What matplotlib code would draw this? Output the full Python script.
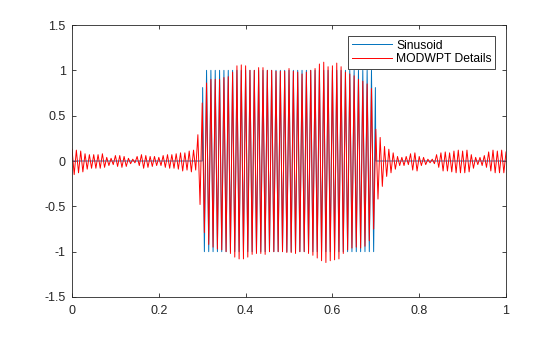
import numpy as np
import matplotlib.pyplot as plt

plt.rcParams['font.family'] = ['Liberation Sans', 'DejaVu Sans']

# ========================
# DATA
# ========================

# sinusoid: switched on between 0.3 and 0.7, extrema every half period (0.005)
sin_t = [0.0, 0.3, 0.301] + [0.305 + 0.005 * i for i in range(79)] + [0.699, 0.7, 1.0]
sin_vals = [0, 0, 0.81,
            -1, 1, -1, 1, -1, 1, -1, 1, -1, 1,
            -1, 1, -1, 1, -1, 1, -1, 1, -1, 1,
            -1, 1, -1, 1, -1, 1, -1, 1, -1, 1,
            -1, 1, -1, 1, -1, 1, -1, 1, -1, 1,
            -1, 1, -1, 1, -1, 1, -1, 1, -1, 1,
            -1, 1, -1, 1, -1, 1, -1, 1, -1, 1,
            -1, 1, -1, 1, -1, 1, -1, 1, -1, 1,
            -1, 1, -1, 1, -1, 1, -1, 1,
            -1,
            0.81, 0, 0]

# MODWPT details: successive peak / trough values, one pair per 0.01
details_ext = [
    0.13, -0.15, 0.12, -0.13, 0.11, -0.12, 0.08, -0.09, 0.07, -0.08,
    0.07, -0.08, 0.07, -0.08, 0.08, -0.07, 0.04, -0.05, 0.03, -0.04,
    0.06, -0.06, 0.06, -0.07, 0.05, -0.06, 0.03, -0.03, 0.02, -0.02,
    0.05, -0.05, 0.07, -0.08, 0.06, -0.07, 0.05, -0.06, 0.05, -0.05,
    0.04, -0.05, 0.06, -0.07, 0.07, -0.08, 0.07, -0.08, 0.08, -0.09,
    0.09, -0.11, 0.09, -0.10, 0.11, -0.12, 0.12, -0.10, 0.29, -0.48,
    0.64, -0.79, 0.86, -0.92, 0.90, -0.95, 0.90, -0.97, 0.90, -0.98,
    0.92, -1.00, 0.93, -1.02, 0.98, -1.06, 1.05, -1.08, 1.06, -1.08,
    1.05, -1.06, 1.00, -1.03, 1.00, -1.02, 1.03, -1.02, 1.03, -1.03,
    1.00, -1.00, 1.00, -1.00, 0.99, -1.00, 0.99, -1.00, 0.99, -1.01,
    1.02, -1.01, 0.99, -1.02, 0.98, -1.00, 0.96, -1.00, 0.98, -1.02,
    1.00, -1.04, 1.02, -1.07, 1.07, -1.10, 1.09, -1.12, 1.04, -1.10,
    1.05, -1.09, 1.08, -1.08, 1.04, -1.02, 0.98, -0.98, 0.96, -0.96,
    0.94, -0.95, 0.90, -0.96, 0.88, -0.94, 0.85, -0.88, 0.80, -0.75,
    0.35, -0.42, 0.26, -0.28, 0.16, -0.17, 0.13, -0.13, 0.09, -0.09,
    0.05, -0.05, 0.04, -0.05, 0.05, -0.04, 0.08, -0.10, 0.09, -0.11,
    0.05, -0.05, 0.04, -0.04, 0.02, -0.02, 0.02, -0.03, 0.07, -0.07,
    0.09, -0.11, 0.10, -0.11, 0.09, -0.12, 0.11, -0.13, 0.12, -0.13,
    0.11, -0.13, 0.12, -0.12, 0.07, -0.08, 0.04, -0.04, 0.04, -0.05,
    0.06, -0.07, 0.10, -0.11, 0.12, -0.13, 0.11, -0.13, 0.12, -0.13,
    0.10,
]
half_period = 0.005
details_t = np.arange(len(details_ext)) * half_period

x_ticks = [0, 0.2, 0.4, 0.6, 0.8, 1]
x_labels = ['0', '0.2', '0.4', '0.6', '0.8', '1']
y_ticks = [-1.5, -1, -0.5, 0, 0.5, 1, 1.5]
y_labels = ['-1.5', '-1', '-0.5', '0', '0.5', '1', '1.5']

# ========================
# PLOT
# ========================

fig = plt.figure(figsize=(5.6, 3.37), dpi=100)
ax = fig.add_axes([0.1286, 0.1187, 0.775, 0.8071])

ax.plot(sin_t, sin_vals, color='#0072BD', lw=0.7, label='Sinusoid')
ax.plot(details_t, details_ext, color='#FF0000', lw=0.7, label='MODWPT Details')

ax.set_xlim(0, 1)
ax.set_ylim(-1.5, 1.5)
ax.set_xticks(x_ticks)
ax.set_xticklabels(x_labels)
ax.set_yticks(y_ticks)
ax.set_yticklabels(y_labels)
ax.tick_params(direction='in', length=3.2, width=0.6, top=True, right=True,
               labelsize=9, colors='#262626')
ax.tick_params(axis='x', pad=6)
ax.tick_params(axis='y', pad=4.5)
for s in ax.spines.values():
    s.set_linewidth(0.6)
    s.set_color('#262626')

leg = ax.legend(loc='upper right', bbox_to_anchor=(0.975, 0.96), borderaxespad=0,
                fontsize=8.7, handlelength=3.3, labelspacing=0.15, handletextpad=0.35,
                borderpad=0.3, fancybox=False, framealpha=1)
leg.get_frame().set_edgecolor('#262626')
leg.get_frame().set_linewidth(0.6)

fig.savefig('out.png', dpi=100)
